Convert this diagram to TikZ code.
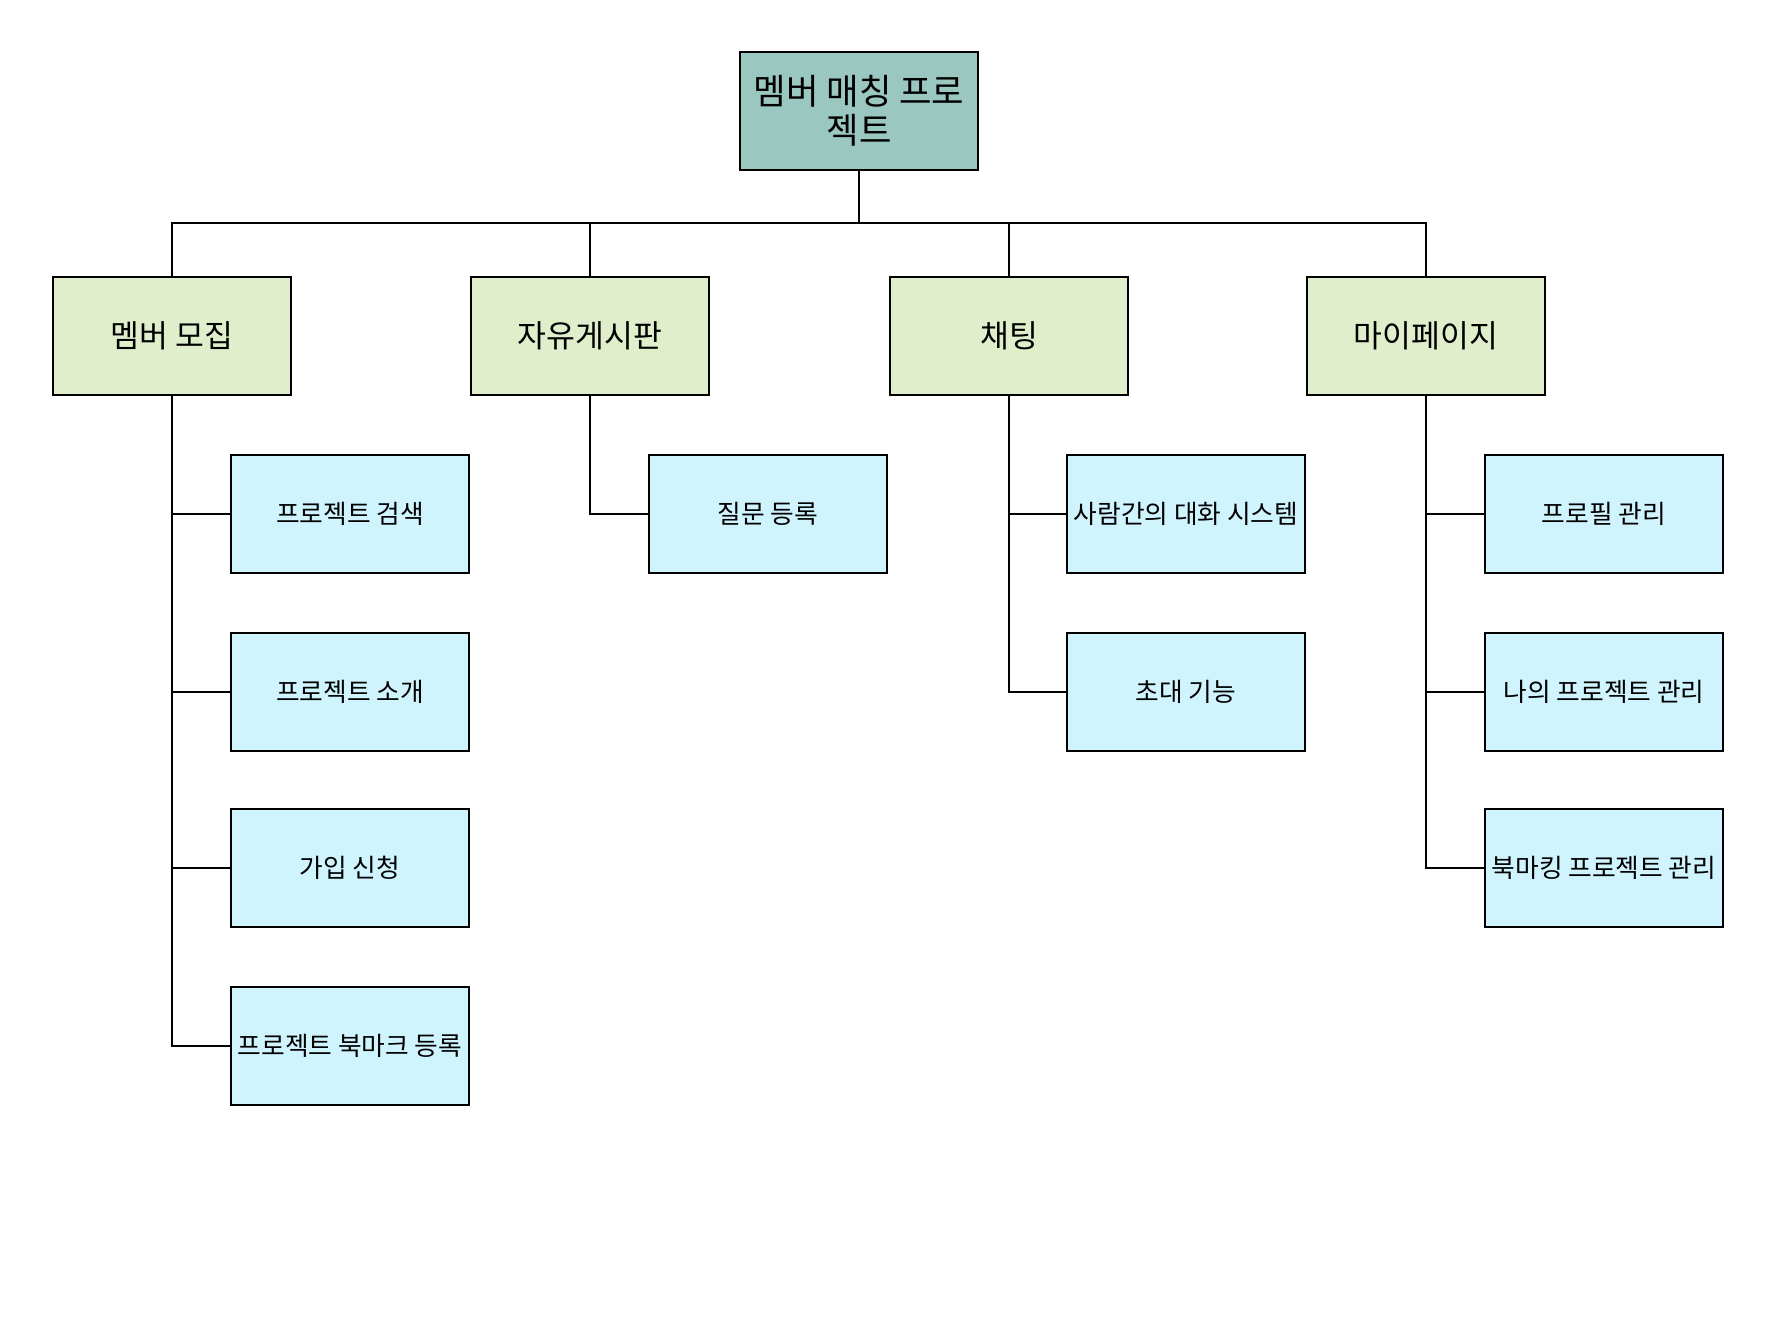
\documentclass[tikz,border=0pt]{standalone}
\usepackage{fontspec}
\setmainfont{Noto Sans CJK KR}
\definecolor{rootfill}{HTML}{9AC7BF}
\definecolor{catfill}{HTML}{E0EECB}
\definecolor{itemfill}{HTML}{D0F4FE}
\begin{document}
\begin{tikzpicture}[x=0.75pt,y=-0.75pt,
  box/.style={draw=black,line width=1.5pt,inner sep=0pt,minimum width=179pt,minimum height=89pt,align=center,text=black},
  rootbox/.style={box,fill=rootfill,font=\fontsize{26.5}{29}\selectfont},
  catbox/.style={box,fill=catfill,font=\fontsize{23.5}{27}\selectfont},
  itembox/.style={box,fill=itemfill,font=\fontsize{19.3}{23}\selectfont},
  link/.style={draw=black,line width=1.5pt}]
\fill[white] (0,0) rectangle (1774,1334);
\useasboundingbox (0,0) rectangle (1774,1334);

\node[rootbox] (root) at (859,111) {멤버 매칭 프로\\젝트};

\node[catbox] (c1) at (172,336) {멤버 모집};
\node[catbox] (c2) at (590,336) {자유게시판};
\node[catbox] (c3) at (1009,336) {채팅};
\node[catbox] (c4) at (1426,336) {마이페이지};

\coordinate (bus) at (859,223);

\node[itembox] (a1) at (350,514) {프로젝트 검색};
\node[itembox] (a2) at (350,692) {프로젝트 소개};
\node[itembox] (a3) at (350,868) {가입 신청};
\node[itembox] (a4) at (350,1046) {프로젝트 북마크 등록};

\node[itembox] (b1) at (768,514) {질문 등록};

\node[itembox] (d1) at (1186,514) {사람간의 대화 시스템};
\node[itembox] (d2) at (1186,692) {초대 기능};

\node[itembox] (e1) at (1604,514) {프로필 관리};
\node[itembox] (e2) at (1604,692) {나의 프로젝트 관리};
\node[itembox] (e3) at (1604,868) {북마킹 프로젝트 관리};

\foreach \c in {c1,c2,c3,c4}
  \draw[link] (root.south) |- (bus -| \c) -- (\c.north);

\foreach \i in {a1,a2,a3,a4} \draw[link] (c1.south) |- (\i.west);
\draw[link] (c2.south) |- (b1.west);
\foreach \i in {d1,d2} \draw[link] (c3.south) |- (\i.west);
\foreach \i in {e1,e2,e3} \draw[link] (c4.south) |- (\i.west);
\end{tikzpicture}
\end{document}
